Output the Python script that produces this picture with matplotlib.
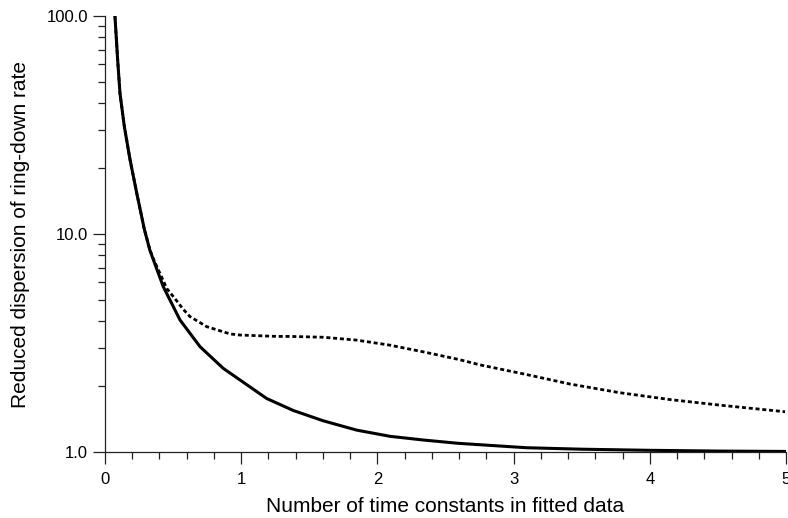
import numpy as np
import matplotlib
matplotlib.use("Agg")
import matplotlib.pyplot as plt
from matplotlib.ticker import FormatStrFormatter, MultipleLocator, LogLocator

# solid curve
solid_x = [0.073, 0.093, 0.110, 0.142, 0.184, 0.233, 0.289, 0.330, 0.428, 0.551,
           0.698, 0.868, 0.991, 1.187, 1.383, 1.603, 1.848, 2.093, 2.337, 2.594,
           3.096, 3.5, 4.0, 4.5, 5.0]
solid_y = [100.0, 62.8, 44.2, 31.1, 21.9, 15.4, 10.5, 8.4, 5.73, 4.03,
           3.04, 2.42, 2.14, 1.76, 1.55, 1.39, 1.26, 1.18, 1.135, 1.096,
           1.046, 1.03, 1.018, 1.010, 1.006]

# dashed curve
dash_x = [0.073, 0.093, 0.110, 0.142, 0.184, 0.233, 0.289, 0.330, 0.355, 0.453,
          0.526, 0.575, 0.624, 0.746, 0.918, 0.991, 1.261, 1.358, 1.603, 1.848,
          2.093, 2.337, 2.594, 2.753, 3.09, 3.414, 3.781, 4.148, 4.515, 4.993]
dash_y = [100.0, 62.8, 44.2, 31.1, 21.9, 15.4, 10.5, 8.45, 7.7, 5.63,
          4.94, 4.51, 4.18, 3.76, 3.48, 3.44, 3.39, 3.39, 3.36, 3.26,
          3.09, 2.88, 2.66, 2.51, 2.27, 2.05, 1.87, 1.74, 1.64, 1.53]

xlabel = "Number of time constants in fitted data"
ylabel = "Reduced dispersion of ring-down rate"


def main():
    plt.rcParams['font.family'] = ['Liberation Sans', 'DejaVu Sans']
    fig = plt.figure(figsize=(7.88, 5.18), dpi=100)
    ax = fig.add_axes([105 / 788, 66 / 518, 681 / 788, 436 / 518])

    ax.plot(dash_x, dash_y, color='black', lw=2.0, linestyle=(0, (1.45, 1.0)))
    ax.plot(solid_x, solid_y, color='black', lw=2.2, solid_joinstyle='round')

    ax.set_yscale('log')
    ax.set_xlim(0, 5)
    ax.set_ylim(1, 100)
    ax.yaxis.set_major_formatter(FormatStrFormatter('%.1f'))
    ax.yaxis.set_minor_locator(LogLocator(base=10, subs=np.arange(2, 10)))
    ax.yaxis.set_minor_formatter(plt.NullFormatter())
    ax.xaxis.set_major_locator(MultipleLocator(1))
    ax.xaxis.set_minor_locator(MultipleLocator(0.2))

    for side in ['top', 'right']:
        ax.spines[side].set_visible(False)
    for side in ['left', 'bottom']:
        ax.spines[side].set_linewidth(0.9)
        ax.spines[side].set_color('#222222')

    ax.tick_params(which='major', direction='out', length=8.6, width=0.9,
                   labelsize=12, color='#222222')
    ax.tick_params(which='minor', direction='out', length=5, width=0.9,
                   color='#222222')
    ax.tick_params(axis='x', which='major', pad=6)
    ax.tick_params(axis='y', which='major', pad=3.5)

    ax.set_xlabel(xlabel, fontsize=15, labelpad=7)
    ax.set_ylabel(ylabel, fontsize=15, labelpad=12)

    fig.savefig("out.png", dpi=100)
    return 0


if __name__ == "__main__":
    main()
